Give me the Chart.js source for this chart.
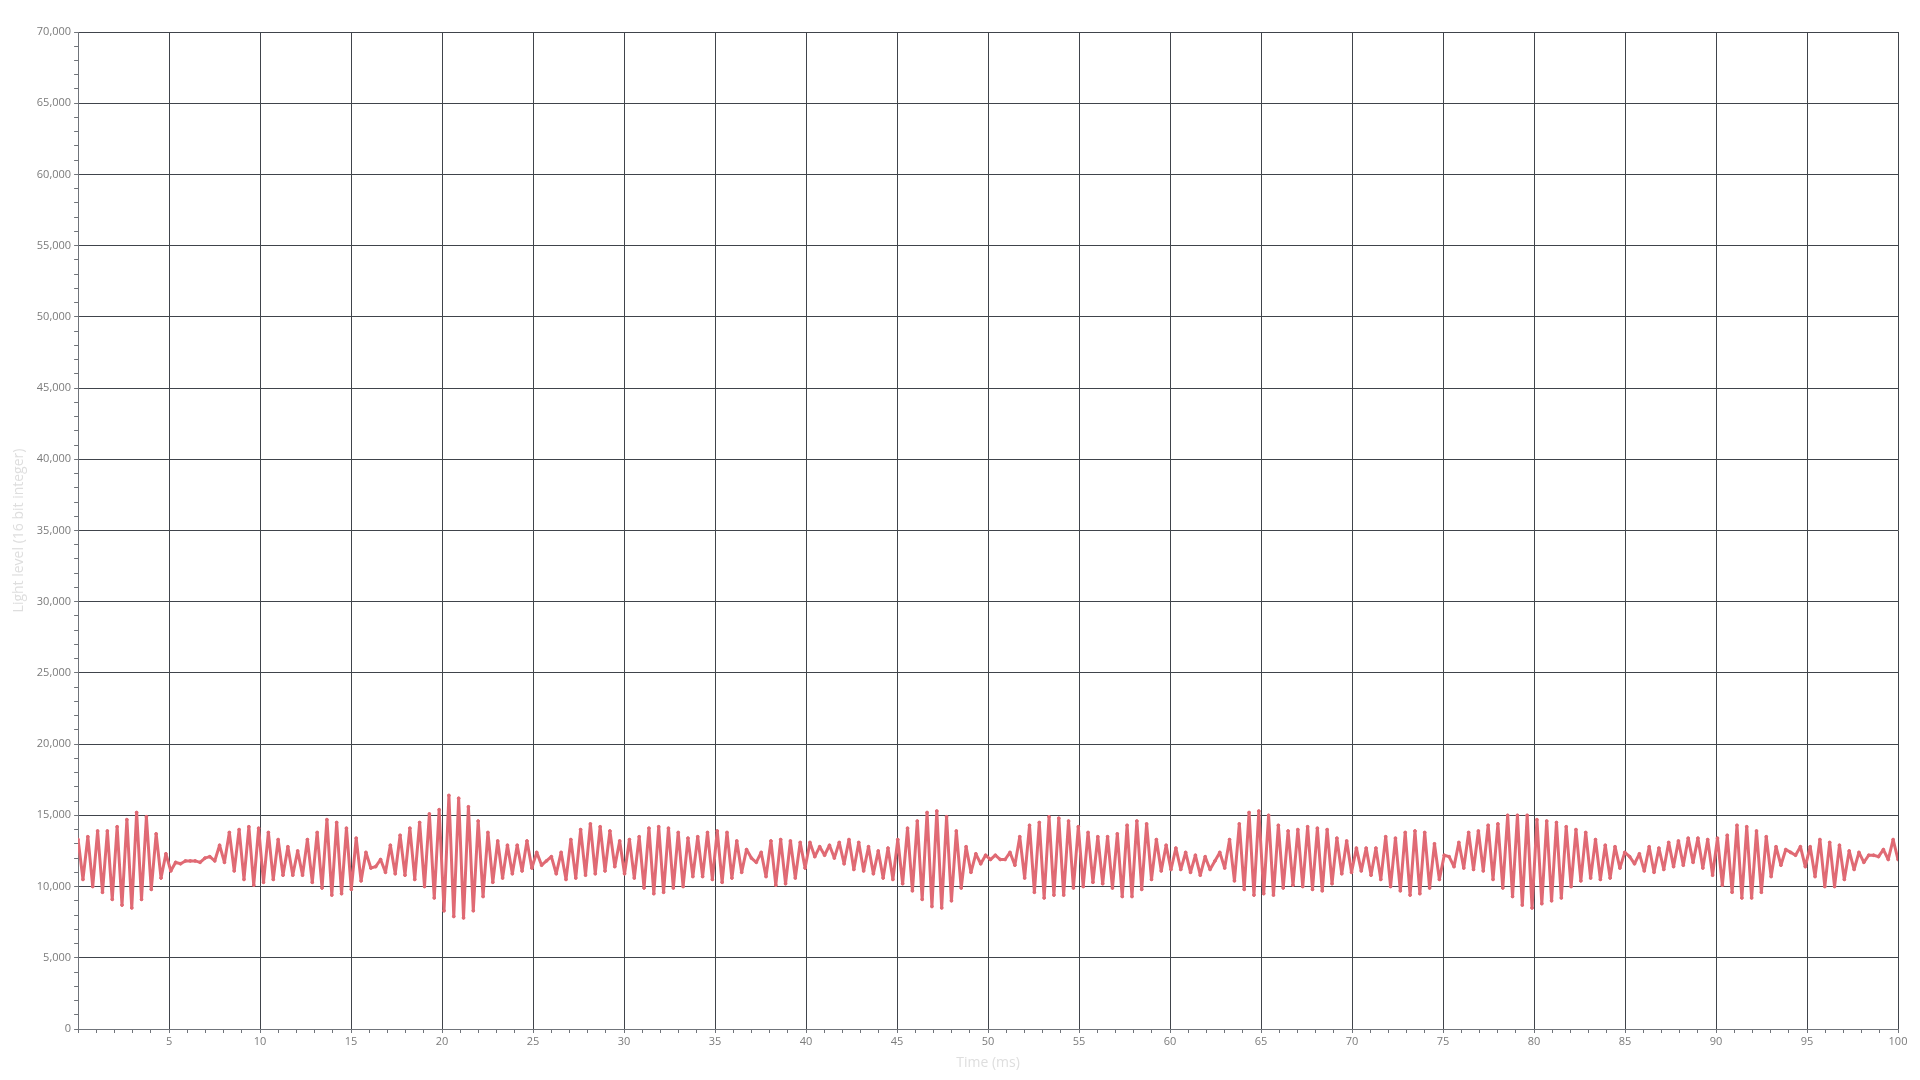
<!DOCTYPE html>
<html>
<head>
<meta charset="utf-8">
<title>Light level</title>
<script src="https://cdn.jsdelivr.net/npm/chart.js@4.4.1/dist/chart.umd.min.js"></script>
<style>
  html, body { margin: 0; padding: 0; background: #ffffff; }
  #wrap { width: 1920px; height: 1080px; }
</style>
</head>
<body>
<div id="wrap"><canvas id="lightChart"></canvas></div>
<script>
// sampled light level, one value every sampleStepMs
const sampleStepMs = 100 / 373;
const lightLevel = [
  13300, 10500, 13500, 10000, 13900, 9600, 13900, 9100, 14200, 8700,
  14700, 8500, 15200, 9100, 14900, 9800, 13700, 10600, 12300, 11100,
  11700, 11600, 11800, 11800, 11800, 11700, 12000, 12100, 11800, 12900,
  11700, 13800, 11100, 14000, 10500, 14200, 10100, 14100, 10300, 13800,
  10500, 13300, 10800, 12800, 10800, 12500, 10800, 13300, 10300, 13800,
  9900, 14700, 9400, 14500, 9500, 14100, 9800, 13400, 10400, 12400,
  11300, 11400, 11900, 11000, 12900, 10900, 13600, 10800, 14100, 10500,
  14500, 10000, 15100, 9200, 15400, 8300, 16400, 7900, 16200, 7800,
  15600, 8300, 14600, 9300, 13800, 10300, 13200, 10600, 12900, 10900,
  12900, 11100, 13200, 11300, 12400, 11500, 11800, 12100, 10900, 12400,
  10500, 13300, 10600, 14000, 10800, 14400, 10900, 14200, 11100, 13900,
  11400, 13200, 10900, 13300, 10600, 13500, 9900, 14100, 9500, 14200,
  9600, 14100, 9900, 13800, 10000, 13400, 10700, 13500, 10700, 13800,
  10500, 13900, 10300, 13800, 10600, 13200, 11000, 12600, 12000, 11700,
  12400, 10700, 13200, 10100, 13300, 10200, 13200, 10600, 13100, 11300,
  13100, 12100, 12800, 12200, 12900, 12000, 13100, 11600, 13300, 11200,
  13100, 11100, 12800, 10900, 12500, 10600, 12700, 10500, 13300, 10200,
  14100, 9700, 14600, 9100, 15200, 8600, 15300, 8500, 14900, 9000,
  13900, 9900, 12800, 11000, 12300, 11600, 12200, 11900, 12200, 11900,
  11900, 12400, 11500, 13500, 10600, 14300, 9600, 14500, 9200, 14900,
  9400, 14800, 9400, 14600, 9900, 14200, 10000, 13800, 10300, 13500,
  10200, 13500, 9900, 13700, 9300, 14300, 9300, 14600, 9800, 14400,
  10500, 13300, 11100, 12900, 11200, 12700, 11200, 12400, 11000, 12200,
  10800, 12100, 11200, 11800, 12400, 11300, 13300, 10400, 14400, 9800,
  15200, 9400, 15300, 9500, 15000, 9400, 14300, 9900, 13900, 10100,
  14000, 10000, 14200, 9800, 14100, 9700, 14000, 10200, 13400, 10900,
  13200, 11000, 12700, 11100, 12700, 10800, 12700, 10500, 13500, 10000,
  13400, 9700, 13800, 9400, 13900, 9500, 13800, 9900, 13000, 10500,
  12200, 12100, 11400, 13100, 11300, 13800, 11200, 13900, 11100, 14300,
  10500, 14400, 9900, 15000, 9300, 15000, 8700, 15000, 8500, 14700,
  8800, 14600, 9000, 14500, 9200, 14200, 10000, 14000, 10400, 13800,
  10600, 13300, 10500, 12900, 10600, 12800, 11300, 12400, 12100, 11600,
  12300, 11100, 12800, 11000, 12700, 11200, 13100, 11400, 13200, 11500,
  13400, 11700, 13400, 11300, 13300, 10800, 13400, 10100, 13600, 9600,
  14300, 9200, 14200, 9200, 13900, 9600, 13500, 10700, 12800, 11500,
  12600, 12400, 12200, 12800, 11400, 12800, 10700, 13300, 10000, 13100,
  10000, 12900, 10500, 12500, 11200, 12400, 11700, 12200, 12200, 12100,
  12600, 11900, 13300, 11900
];

const xMin = 0, xMax = 100, xStepMinor = 1, xStepMajor = 5;
const yMin = 0, yMax = 70000, yStepMinor = 1000, yStepMajor = 5000;

const xTitle = 'Time (ms)';
const yTitle = 'Light level (16 bit integer)';

const lineColor = 'rgb(224, 106, 116)';
const gridColor = '#40444b';
const axisColor = '#70747a';
const tickTextColor = '#7b7b7b';
const titleColor = '#dedede';

const points = lightLevel.map((v, i) => ({ x: i * sampleStepMs, y: v }));

function isMajor(value, step) {
  return Math.abs(value / step - Math.round(value / step)) < 1e-6;
}

const ctx = document.getElementById('lightChart').getContext('2d');
new Chart(ctx, {
  type: 'line',
  data: {
    datasets: [{
      label: 'Light level',
      data: points,
      borderColor: lineColor,
      backgroundColor: lineColor,
      borderWidth: 3,
      borderJoinStyle: 'round',
      pointRadius: 1.4,
      pointBorderWidth: 1,
      pointBackgroundColor: lineColor,
      pointBorderColor: lineColor,
      tension: 0,
      fill: false
    }]
  },
  options: {
    responsive: true,
    maintainAspectRatio: false,
    animation: false,
    layout: { padding: { left: 11, right: 22, top: 32, bottom: 9 } },
    plugins: {
      legend: { display: false },
      tooltip: { enabled: false }
    },
    scales: {
      x: {
        type: 'linear',
        min: xMin,
        max: xMax,
        border: { color: axisColor, width: 1 },
        grid: {
          color: c => (isMajor(c.tick.value, xStepMajor) ? gridColor : 'rgba(0,0,0,0)'),
          tickColor: axisColor,
          tickLength: 4,
          lineWidth: 1
        },
        ticks: {
          stepSize: xStepMinor,
          autoSkip: false,
          maxRotation: 0,
          color: tickTextColor,
          font: { family: 'Open Sans', size: 11 },
          padding: 2,
          callback: v => (isMajor(v, xStepMajor) && v !== 0 ? String(v) : '')
        },
        title: {
          display: true,
          text: xTitle,
          color: titleColor,
          font: { family: 'Open Sans', size: 14 },
          padding: { top: 4, bottom: 0 }
        }
      },
      y: {
        type: 'linear',
        min: yMin,
        max: yMax,
        border: { color: axisColor, width: 1 },
        grid: {
          color: c => (isMajor(c.tick.value, yStepMajor) ? gridColor : 'rgba(0,0,0,0)'),
          tickColor: axisColor,
          tickLength: 4,
          lineWidth: 1
        },
        ticks: {
          stepSize: yStepMinor,
          autoSkip: false,
          color: tickTextColor,
          font: { family: 'Open Sans', size: 11 },
          padding: 3,
          callback: v => (isMajor(v, yStepMajor) ? v.toLocaleString('en-US') : '')
        },
        title: {
          display: true,
          text: yTitle,
          color: titleColor,
          font: { family: 'Open Sans', size: 14 },
          padding: { top: 0, bottom: 6 }
        }
      }
    }
  }
});
</script>
</body>
</html>
